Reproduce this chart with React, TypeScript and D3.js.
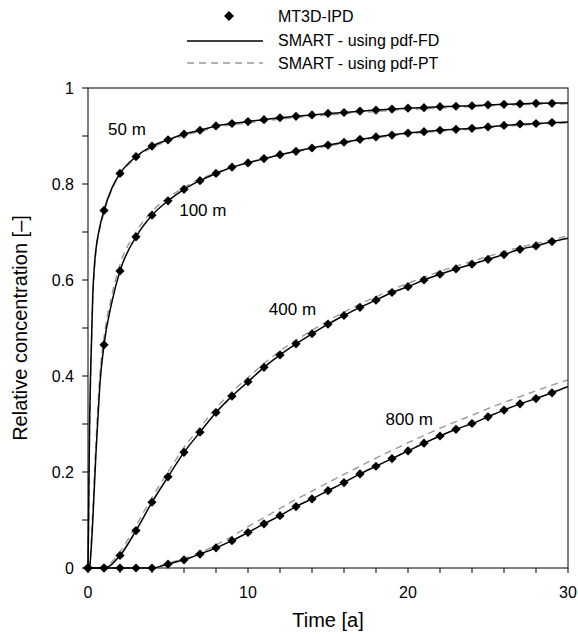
import React from "react";
import * as d3 from "d3";

// ---- Data ----
const markerTimes = d3.range(0, 30); // 0..29 years

const mt3d50 = [0, 0.745, 0.822, 0.857, 0.879, 0.892, 0.904, 0.912, 0.921, 0.926, 0.930, 0.934, 0.938, 0.941, 0.944, 0.947, 0.949, 0.952, 0.954, 0.956, 0.958, 0.959, 0.961, 0.962, 0.963, 0.965, 0.966, 0.967, 0.968, 0.968];
const mt3d100 = [0, 0.465, 0.619, 0.69, 0.735, 0.765, 0.789, 0.807, 0.822, 0.835, 0.844, 0.853, 0.861, 0.868, 0.875, 0.881, 0.887, 0.893, 0.898, 0.902, 0.906, 0.909, 0.912, 0.914, 0.916, 0.919, 0.922, 0.925, 0.926, 0.928];
const mt3d400 = [0, 0, 0.026, 0.078, 0.137, 0.19, 0.241, 0.283, 0.324, 0.358, 0.388, 0.418, 0.444, 0.467, 0.488, 0.508, 0.526, 0.543, 0.558, 0.574, 0.586, 0.6, 0.612, 0.623, 0.633, 0.643, 0.653, 0.664, 0.671, 0.68];
const mt3d800 = [0, 0, 0, 0, 0, 0.008, 0.017, 0.029, 0.042, 0.057, 0.074, 0.092, 0.109, 0.128, 0.144, 0.161, 0.178, 0.196, 0.212, 0.228, 0.244, 0.26, 0.275, 0.289, 0.301, 0.315, 0.329, 0.342, 0.353, 0.365];

const times50 = [0, 0.03, 0.06, 0.1, 0.15, 0.2, 0.3, 0.4, 0.5, 0.7, 1, 1.5, 2, 3, 4, 5, 6, 7, 8, 9, 10, 12, 14, 16, 18, 20, 22, 24, 26, 28, 30];
const fd50 = [0, 0.08, 0.18, 0.3, 0.39, 0.45, 0.57, 0.63, 0.665, 0.705, 0.745, 0.792, 0.822, 0.857, 0.879, 0.892, 0.904, 0.912, 0.921, 0.926, 0.930, 0.938, 0.944, 0.949, 0.954, 0.958, 0.961, 0.963, 0.966, 0.968, 0.969];
const pt50 = [0, 0.07, 0.16, 0.28, 0.37, 0.44, 0.56, 0.62, 0.66, 0.70, 0.741, 0.789, 0.819, 0.854, 0.876, 0.889, 0.901, 0.909, 0.918, 0.923, 0.927, 0.935, 0.941, 0.946, 0.951, 0.955, 0.958, 0.961, 0.964, 0.966, 0.967];

const times100 = [0, 0.1, 0.2, 0.3, 0.4, 0.5, 0.6, 0.75, 1, 1.5, 2, 3, 4, 5, 6, 7, 8, 9, 10, 12, 14, 16, 18, 20, 22, 24, 26, 28, 30];
const fd100 = [0, 0.002, 0.04, 0.1, 0.17, 0.24, 0.3, 0.385, 0.465, 0.555, 0.619, 0.69, 0.735, 0.765, 0.789, 0.807, 0.822, 0.835, 0.844, 0.861, 0.875, 0.887, 0.898, 0.906, 0.912, 0.916, 0.922, 0.926, 0.929];
const pt100 = [0, 0.006, 0.055, 0.12, 0.195, 0.265, 0.325, 0.405, 0.48, 0.57, 0.632, 0.70, 0.743, 0.771, 0.793, 0.81, 0.824, 0.836, 0.845, 0.861, 0.873, 0.885, 0.896, 0.904, 0.910, 0.914, 0.920, 0.924, 0.927];

const lineTimes = d3.range(0, 31); // 0..30 years
const fd400 = [0, 0, 0.026, 0.078, 0.137, 0.19, 0.241, 0.283, 0.324, 0.358, 0.388, 0.418, 0.444, 0.467, 0.488, 0.508, 0.526, 0.543, 0.558, 0.574, 0.586, 0.6, 0.612, 0.623, 0.633, 0.643, 0.653, 0.664, 0.671, 0.68, 0.687];
const pt400 = [0, 0.002, 0.034, 0.088, 0.147, 0.2, 0.251, 0.293, 0.333, 0.367, 0.397, 0.426, 0.452, 0.475, 0.495, 0.515, 0.533, 0.55, 0.565, 0.58, 0.593, 0.606, 0.618, 0.629, 0.639, 0.649, 0.659, 0.668, 0.676, 0.684, 0.692];
const fd800 = [0, 0, 0, 0, 0, 0.008, 0.017, 0.029, 0.042, 0.057, 0.074, 0.092, 0.109, 0.128, 0.144, 0.161, 0.178, 0.196, 0.212, 0.228, 0.244, 0.26, 0.275, 0.289, 0.301, 0.315, 0.329, 0.342, 0.353, 0.365, 0.378];
const pt800 = [0, 0, 0, 0, 0.001, 0.01, 0.02, 0.032, 0.048, 0.066, 0.086, 0.105, 0.124, 0.143, 0.16, 0.178, 0.195, 0.212, 0.229, 0.245, 0.261, 0.276, 0.291, 0.305, 0.318, 0.332, 0.345, 0.357, 0.369, 0.381, 0.392];

const curveLabels = ["50 m", "100 m", "400 m", "800 m"];
const labelAnchors = [[1.25, 0.915], [5.7, 0.745], [11.3, 0.54], [18.6, 0.31]];

const xTicksMajor = [0, 10, 20, 30];
const xTicksMinor = d3.range(0, 31, 2);
const yTicksMajor = [0, 0.2, 0.4, 0.6, 0.8, 1];
const yTicksMinor = d3.range(0, 1.01, 0.1);

const legendLabels = ["MT3D-IPD", "SMART - using pdf-FD", "SMART - using pdf-PT"];

const FONT = "Arial, 'Liberation Sans', Helvetica, sans-serif";

export default function App() {
  const width = 578;
  const height = 634;
  const x = d3.scaleLinear().domain([0, 30]).range([88, 568]);
  const y = d3.scaleLinear().domain([0, 1]).range([568, 88]);

  const line = d3
    .line<[number, number]>()
    .x((d) => x(d[0]))
    .y((d) => y(d[1]))
    .curve(d3.curveMonotoneX);

  const zip = (ts: number[], vs: number[]) => ts.map((t, i) => [t, vs[i]] as [number, number]);

  const ptSeries = [zip(times50, pt50), zip(times100, pt100), zip(lineTimes, pt400), zip(lineTimes, pt800)];
  const fdSeries = [zip(times50, fd50), zip(times100, fd100), zip(lineTimes, fd400), zip(lineTimes, fd800)];
  const markerSeries = [mt3d50, mt3d100, mt3d400, mt3d800];

  const diamond = (cx: number, cy: number, r: number) =>
    `M${cx},${cy - r}L${cx + r},${cy}L${cx},${cy + r}L${cx - r},${cy}Z`;

  const [x0, x1] = x.range();
  const [y0, y1] = y.range();

  return (
    <svg width={width} height={height} style={{ position: "absolute", left: 0, top: 0 }} fontFamily={FONT}>
      <rect x={0} y={0} width={width} height={height} fill="#fff" />

      {/* Legend */}
      <g>
        <path d={diamond(229, 16, 5)} fill="#000" />
        <text x={278} y={16} dy="0.35em" fontSize={16}>{legendLabels[0]}</text>
        <line x1={187} x2={263} y1={41} y2={41} stroke="#000" strokeWidth={1.6} />
        <text x={278} y={40} dy="0.35em" fontSize={16}>{legendLabels[1]}</text>
        <line x1={187} x2={263} y1={63} y2={63} stroke="#999" strokeWidth={1.4} strokeDasharray="7,5" />
        <text x={278} y={63} dy="0.35em" fontSize={16}>{legendLabels[2]}</text>
      </g>

      {/* Series */}
      {ptSeries.map((s, i) => (
        <path key={"pt" + i} d={line(s) || ""} fill="none" stroke="#999" strokeWidth={1.4} strokeDasharray="7,5" />
      ))}
      {fdSeries.map((s, i) => (
        <path key={"fd" + i} d={line(s) || ""} fill="none" stroke="#000" strokeWidth={1.5} />
      ))}
      {markerSeries.map((vals, i) =>
        vals.map((v, j) => <path key={`m${i}-${j}`} d={diamond(x(markerTimes[j]), y(v), 4.6)} fill="#000" />)
      )}

      {/* Frame */}
      <rect x={x0} y={y1} width={x1 - x0} height={y0 - y1} fill="none" stroke="#000" strokeWidth={1} />

      {/* X ticks */}
      {xTicksMinor.map((t) => (
        <line key={"xt" + t} x1={x(t)} x2={x(t)} y1={y0} y2={y0 + 5} stroke="#000" strokeWidth={1} />
      ))}
      {xTicksMajor.map((t) => (
        <text key={"xl" + t} x={x(t)} y={592} dy="0.35em" textAnchor="middle" fontSize={16}>{t}</text>
      ))}

      {/* Y ticks */}
      {yTicksMinor.map((v, i) => (
        <line key={"yt" + i} x1={x0 - 6} x2={x0} y1={y(v)} y2={y(v)} stroke="#000" strokeWidth={1} />
      ))}
      {yTicksMajor.map((v) => (
        <text key={"yl" + v} x={74} y={y(v)} dy="0.35em" textAnchor="end" fontSize={16}>{d3.format("~g")(v)}</text>
      ))}

      {/* Curve labels */}
      {curveLabels.map((lab, i) => (
        <text key={lab} x={x(labelAnchors[i][0])} y={y(labelAnchors[i][1])} dy="0.35em" fontSize={17}>{lab}</text>
      ))}

      {/* Axis titles */}
      <text x={(x0 + x1) / 2} y={620} dy="0.35em" textAnchor="middle" fontSize={20}>Time [a]</text>
      <text transform={`translate(20,${(y0 + y1) / 2}) rotate(-90)`} dy="0.35em" textAnchor="middle" fontSize={20}>
        Relative concentration [–]
      </text>
    </svg>
  );
}
